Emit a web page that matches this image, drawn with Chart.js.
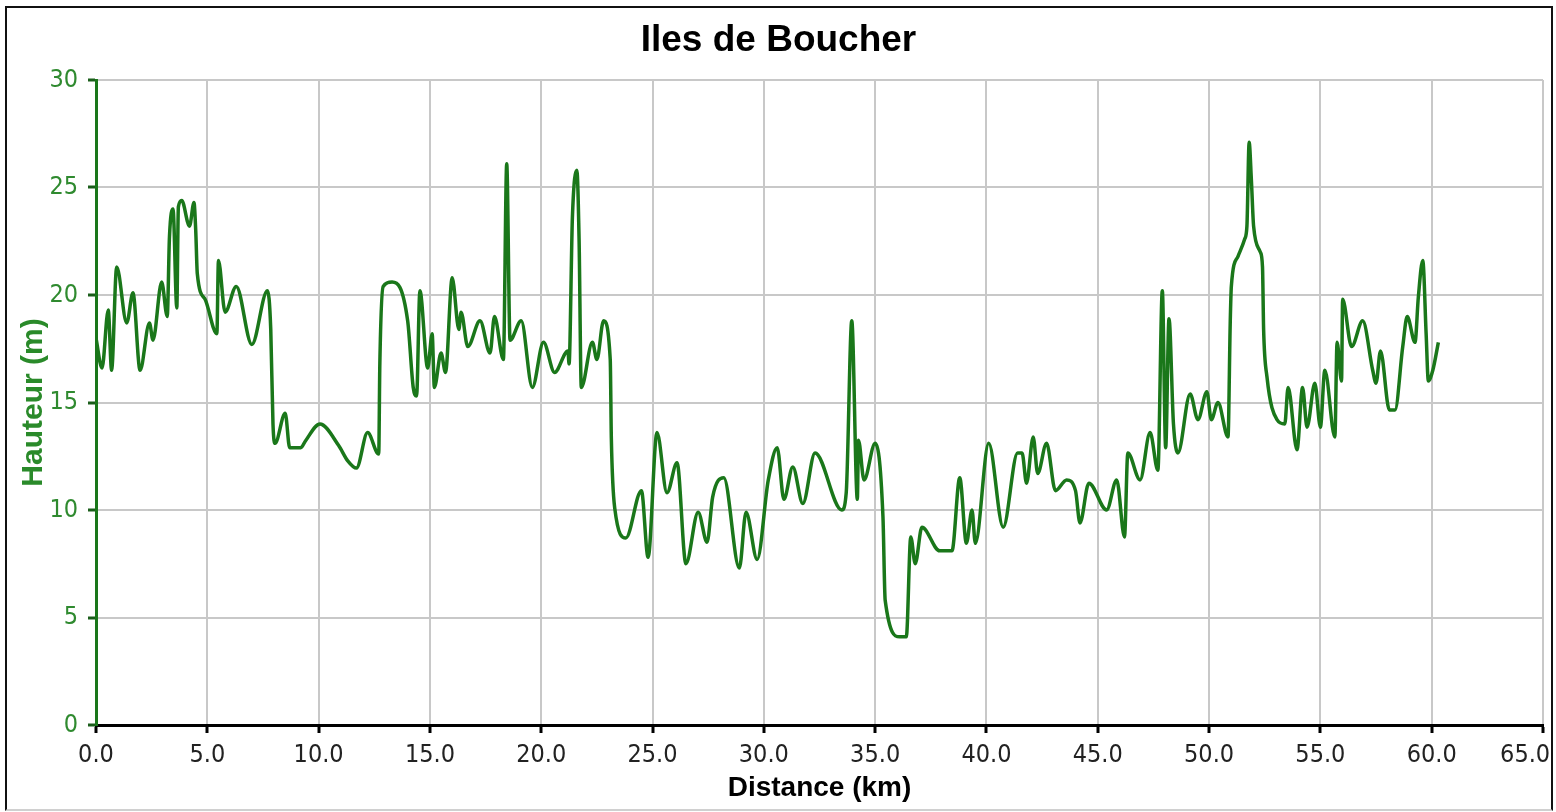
<!DOCTYPE html>
<html>
<head>
<meta charset="utf-8">
<title>Iles de Boucher</title>
<script src="https://cdn.jsdelivr.net/npm/chart.js@4.4.1/dist/chart.umd.min.js"></script>
<style>
    html, body { margin: 0; padding: 0; background: #fff; }
    #frame {
        position: absolute; left: 5px; top: 6px; width: 1544px; height: 801px;
        border: 2px solid #111; border-bottom-color: #d0d0d0;
    }
    #wrap { position: absolute; left: 0; top: 0; width: 1556px; height: 812px; }
</style>
</head>
<body>
<div id="frame"></div>
<div id="wrap"><canvas id="profile-chart"></canvas></div>
<script>
// Distance along the route (km)
const distanceKm = [
    0.0, 0.27, 0.55, 0.7, 0.93, 1.38, 1.66, 1.98, 2.4, 2.56, 2.95, 3.2, 3.3, 3.46, 3.63, 3.7, 3.85,
    4.2, 4.4, 4.48, 4.55, 4.9, 5.43, 5.5, 5.8, 6.3, 7.0, 7.7, 7.85, 7.95, 8.04, 8.5, 8.7, 9.2, 9.4,
    10.06, 10.9, 11.3, 11.7, 12.2, 12.7, 12.75, 12.9, 13.3, 14.0, 14.25, 14.4, 14.55, 14.9,
    15.1, 15.2, 15.5, 15.7, 16.0, 16.3, 16.4, 16.7, 17.25, 17.7, 17.9, 18.3, 18.45, 18.6, 19.1,
    19.6, 20.1, 20.6, 21.2, 21.25, 21.4, 21.6, 21.7, 21.8, 22.3, 22.5, 22.8, 23.1, 23.15, 23.3,
    23.8, 24.5, 24.8, 25.2, 25.65, 26.1, 26.5, 27.05, 27.45, 27.7, 28.2, 28.9, 29.2, 29.7, 30.2,
    30.6, 30.9, 31.3, 31.75, 32.3, 33.5, 33.7, 33.95, 34.2, 34.25, 34.5, 35.0, 35.35, 35.45,
    36.1, 36.4, 36.6, 36.8, 37.1, 37.9, 38.45, 38.8, 39.1, 39.35, 39.5, 40.1, 40.75, 41.4, 41.6,
    41.8, 42.1, 42.3, 42.7, 43.1, 43.6, 44.0, 44.2, 44.6, 45.4, 45.85, 46.2, 46.35, 46.9, 47.35,
    47.7, 47.9, 48.05, 48.2, 48.4, 48.6, 49.15, 49.5, 49.9, 50.1, 50.4, 50.85, 50.95, 51.0, 51.3,
    51.6, 51.7, 51.8, 51.9, 52.0, 52.3, 52.4, 52.45, 52.6, 53.05, 53.4, 53.55, 53.95, 54.2, 54.4,
    54.75, 55.0, 55.2, 55.65, 55.75, 55.95, 56.0, 56.4, 56.9, 57.35, 57.5, 57.7, 58.1, 58.35,
    58.7, 58.9, 59.25, 59.4, 59.6, 59.75, 59.85, 60.05, 60.3
];

// Height above sea level (m)
const heightM = [
    18.0, 16.6, 19.3, 16.5, 21.3, 18.7, 20.1, 16.5, 18.7, 17.9, 20.6, 19.0, 22.7, 24.0, 19.4, 24.1, 24.4,
    23.2, 24.3, 23.0, 21.0, 19.8, 18.2, 21.6, 19.2, 20.4, 17.7, 20.2, 18.4, 14.0, 13.1, 14.5, 12.9, 12.9, 13.2,
    14.0, 13.0, 12.3, 11.95, 13.6, 12.6, 16.8, 20.4, 20.6, 18.8, 15.7, 15.3, 20.2, 16.6,
    18.2, 15.7, 17.3, 16.4, 20.8, 18.4, 19.2, 17.6, 18.8, 17.3, 19.0, 17.0, 26.1, 17.9, 18.8,
    15.7, 17.8, 16.4, 17.4, 16.8, 23.6, 25.8, 22.6, 15.7, 17.8, 17.0, 18.8, 17.0, 13.3, 10.1,
    8.7, 10.9, 7.8, 13.6, 10.8, 12.2, 7.5, 9.9, 8.5, 10.6, 11.5, 7.3, 9.9, 7.7, 11.4,
    12.9, 10.5, 12.0, 10.3, 12.65, 10.0, 10.8, 18.8, 10.5, 13.25, 11.4, 13.1, 9.7, 5.8,
    4.1, 4.1, 8.75, 7.5, 9.2, 8.1, 8.1, 11.5, 8.45, 10.0, 8.45, 13.1, 9.2, 12.65, 12.65,
    11.25, 13.4, 11.7, 13.1, 10.9, 11.4, 10.9, 9.4, 11.25, 10.0, 11.4, 8.75, 12.65, 11.4, 13.6,
    11.85, 20.2, 12.9, 18.9, 14.0, 12.65, 15.4, 14.2, 15.5, 14.2, 15.0, 13.4, 18.7, 20.4, 21.8,
    22.6, 23.2, 27.1, 25.35, 23.2, 22.0, 21.3, 18.4, 16.2, 14.2, 14.0, 15.7, 12.8, 15.7, 13.85,
    15.9, 13.85, 16.5, 13.4, 17.8, 16.0, 19.8, 17.6, 18.8, 16.5, 15.9, 17.4, 14.65, 14.65,
    17.6, 19.0, 17.8, 19.9, 21.6, 18.2, 16.0, 16.5, 17.8
];

const chartTitle = 'Iles de Boucher';
const xAxisTitle = 'Distance (km)';
const yAxisTitle = 'Hauteur (m)';

const tickFont = "'Liberation Sans Narrow', 'DejaVu Sans Condensed', Arial, sans-serif";
const boldFont = "'Liberation Sans', Arial, sans-serif";

function renderProfile(canvasId) {
    const canvas = document.querySelector(`#${canvasId}`);
    if (!canvas) return;

    const points = distanceKm.map((d, i) => ({ x: d, y: heightM[i] }));

    canvas.chartInstance = new Chart(canvas, {
        type: 'line',
        data: {
            datasets: [{
                data: points,
                borderColor: '#1a771a',
                borderWidth: 3.5,
                pointRadius: 0,
                cubicInterpolationMode: 'monotone',
                fill: false
            }]
        },
        options: {
            responsive: true,
            maintainAspectRatio: false,
            animation: false,
            layout: {
                padding: { left: 14, right: 13, top: 0, bottom: 7 }
            },
            scales: {
                x: {
                    type: 'linear',
                    min: 0,
                    max: 65,
                    afterFit: function (scale) {
                        scale.height = 80;
                        scale.paddingLeft = 0;
                        scale.paddingRight = 0;
                    },
                    border: { color: '#000', width: 3 },
                    grid: {
                        color: '#c8c8c8',
                        lineWidth: 2,
                        tickColor: '#000',
                        tickLength: 8,
                        tickWidth: 3
                    },
                    ticks: {
                        stepSize: 5,
                        autoSkip: false,
                        maxRotation: 0,
                        minRotation: 0,
                        padding: 7,
                        color: '#222',
                        font: { family: tickFont, size: 25 },
                        // keep the last label inside the frame
                        callback: function (value) {
                            return value === 65 ? '65.0     ' : value.toFixed(1);
                        }
                    },
                    title: {
                        display: true,
                        text: xAxisTitle,
                        color: '#000',
                        font: { family: boldFont, size: 28, weight: 'bold' },
                        padding: { top: 0, bottom: 0 }
                    }
                },
                y: {
                    min: 0,
                    max: 30,
                    afterFit: function (scale) {
                        scale.width = 82;
                        scale.paddingTop = 0;
                        scale.paddingBottom = 0;
                    },
                    border: { color: '#1a771a', width: 3 },
                    grid: {
                        color: '#c8c8c8',
                        lineWidth: 2,
                        tickColor: '#1b5e1b',
                        tickLength: 8,
                        tickWidth: 3
                    },
                    ticks: {
                        stepSize: 5,
                        padding: 10,
                        color: '#2f8a2f',
                        font: { family: tickFont, size: 25 }
                    },
                    title: {
                        display: true,
                        text: yAxisTitle,
                        color: '#2a8a2a',
                        font: { family: boldFont, size: 30, weight: 'bold' },
                        padding: { top: 2, bottom: 0 }
                    }
                }
            },
            plugins: {
                legend: { display: false },
                tooltip: { enabled: false },
                title: {
                    display: true,
                    text: chartTitle,
                    color: '#000',
                    font: { family: boldFont, size: 37, weight: 'bold' },
                    padding: { top: 19, bottom: 16.6 }
                }
            }
        }
    });
}

renderProfile('profile-chart');
</script>
</body>
</html>
